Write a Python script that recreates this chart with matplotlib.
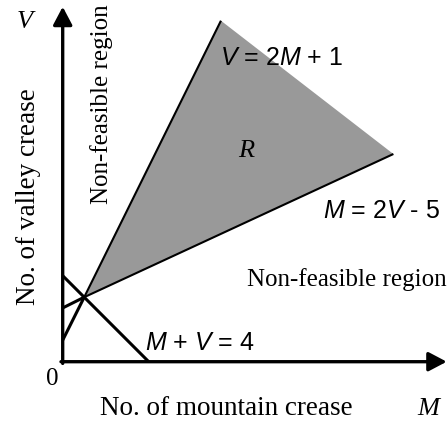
import matplotlib
matplotlib.use("Agg")
import matplotlib.pyplot as plt
import numpy as np

plt.rcParams["mathtext.fontset"] = "custom"
plt.rcParams["mathtext.rm"] = "Liberation Sans"
plt.rcParams["mathtext.it"] = "Liberation Sans:italic"

SERIF = "Liberation Serif"
SANS = "Liberation Sans"

# corner points of the feasible region R, in (M, V)
meet = (1.0, 3.0)             # V = 2M + 1, M = 2V - 5 and M + V = 4 cross here
top_end = (7.36, 15.86)       # far end of V = 2M + 1
right_end = (15.38, 9.66)     # far end of M = 2V - 5
# where each line meets the axes
v_line_start = (0.0, 1.0)     # V = 2M + 1
m_line_start = (0.0, 2.5)     # M = 2V - 5
sum_line = [(0.0, 4.0), (4.0, 0.0)]   # M + V = 4

m_axis_end = 17.86
v_axis_end = 16.51

fig = plt.figure(figsize=(4.48, 4.23), dpi=100)
ax = fig.add_axes([0, 0, 1, 1])
ax.set_xlim(-2.916, 17.92)
ax.set_ylim(-2.851, 16.823)
ax.axis("off")

region = np.array([meet, top_end, right_end])
ax.fill(region[:, 0], region[:, 1], color="#999999", lw=0, zorder=1)

# edges of R
for end in (top_end, right_end):
    ax.plot([meet[0], end[0]], [meet[1], end[1]], color="black", lw=1.5,
            solid_capstyle="butt", zorder=2)
# parts of the lines between the axes and the crossing
for start in (v_line_start, m_line_start):
    ax.plot([start[0], meet[0]], [start[1], meet[1]], color="black", lw=2.2,
            solid_capstyle="butt", zorder=2)
sx, sy = zip(*sum_line)
ax.plot(sx, sy, color="black", lw=2.2, solid_capstyle="butt", zorder=2)

# axes with arrow heads
arrow = dict(arrowstyle="-|>,head_length=1.1,head_width=0.58", color="black",
             lw=2.4, shrinkA=0, shrinkB=0, mutation_scale=10)
ax.annotate("", xy=(m_axis_end, 0), xytext=(-0.08, 0), arrowprops=arrow, zorder=3)
ax.annotate("", xy=(0, v_axis_end), xytext=(0, -0.08), arrowprops=arrow, zorder=3)

# labels
ax.text(-1.75, 15.51, "V", family=SERIF, style="italic", fontsize=19,
        ha="center", va="baseline")
ax.text(17.0, -2.48, "M", family=SERIF, style="italic", fontsize=19,
        ha="center", va="baseline")
ax.text(7.6, -2.48, "No. of mountain crease", family=SERIF, fontsize=19.5,
        ha="center", va="baseline")
ax.text(-1.31, 7.66, "No. of valley crease", family=SERIF, fontsize=19.5,
        ha="center", va="baseline", rotation=90, rotation_mode="anchor")
ax.text(-0.5, -1.08, "0", family=SERIF, fontsize=18, ha="center", va="baseline")
ax.text(2.11, 11.99, "Non-feasible region", family=SERIF, fontsize=18,
        ha="center", va="baseline", rotation=90, rotation_mode="anchor")
ax.text(8.56, 3.51, "Non-feasible region", family=SERIF, fontsize=18,
        ha="left", va="baseline")
ax.text(8.53, 9.53, "R", family=SERIF, style="italic", fontsize=19,
        ha="center", va="baseline")

ax.text(7.30, 13.8, "$V$ = 2$M$ + 1", family=SANS, fontsize=18,
        ha="left", va="baseline")
ax.text(12.1, 6.67, "$M$ = 2$V$ - 5", family=SANS, fontsize=18,
        ha="left", va="baseline")
ax.text(3.83, 0.544, "$M$ + $V$ = 4", family=SANS, fontsize=18,
        ha="left", va="baseline")

fig.savefig("out.png", dpi=100)
